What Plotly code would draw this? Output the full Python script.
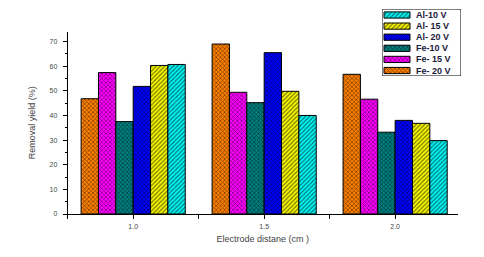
import plotly.graph_objects as go

distances = [1.0, 1.5, 2.0]
series_names = ["Fe- 20 V", "Fe- 15 V", "Fe-10 V", "Al- 20 V", "Al- 15 V", "Al-10 V"]
fe_20 = [46.8, 69.0, 56.7]
fe_15 = [57.4, 49.4, 46.6]
fe_10 = [37.5, 45.2, 33.2]
al_20 = [51.8, 65.5, 38.0]
al_15 = [60.3, 49.8, 36.8]
al_10 = [60.7, 40.0, 29.8]
values = [fe_20, fe_15, fe_10, al_20, al_15, al_10]
colors = ["#FF8000", "#FF00FF", "#008080", "#0000FF", "#FFFF00", "#00FFFF"]
shapes = ["x", "x", "x", "x", "/", "/"]

W, H = 484, 257
OFF = 8  # page body margin of the browser
ML, MR, MT, MB = 59, 28, 0, 51
pw, ph = W - ML - MR, H - MT - MB

def px_x(p):
    return (p - OFF - ML) / pw

def px_y(p):
    return (H - MB - (p - OFF)) / ph

def bar_marker(c, sh):
    return dict(color=c, line=dict(color="black", width=1),
                pattern=dict(shape=sh, fgcolor="black", bgcolor=c, size=3, solidity=0.45))

fig = go.Figure()
for name, vals, c, sh in zip(series_names, values, colors, shapes):
    fig.add_trace(go.Bar(x=distances, y=vals, name=name, showlegend=False,
                         marker=bar_marker(c, sh)))

# manual legend (reversed order, like the reference) on its own small axes
leg_order = list(range(len(series_names)))[::-1]
row_step = 11.1
for k, i in enumerate(leg_order):
    yc = 15 + k * row_step
    fig.add_trace(go.Bar(
        x=[26], y=[yc], base=[384], orientation="h", width=6.2,
        xaxis="x2", yaxis="y2", showlegend=False, hoverinfo="skip",
        marker=bar_marker(colors[i], shapes[i]),
    ))
    fig.add_annotation(x=414, y=yc, xref="x2", yref="y2", text="<b>" + series_names[i] + "</b>",
                       showarrow=False, xanchor="left", yanchor="middle",
                       font=dict(size=9, color="#1a1a3a", family="Liberation Sans, Arial"))

fig.add_shape(type="rect", xref="x2", yref="y2", x0=382, x1=461, y0=9, y1=76,
              line=dict(color="black", width=1), fillcolor="rgba(0,0,0,0)")

font_c = "#444444"
fig.update_layout(
    width=W, height=H,
    margin=dict(l=ML, r=MR, t=MT, b=MB, autoexpand=False),
    paper_bgcolor="white", plot_bgcolor="white",
    barmode="group", bargap=0.205, bargroupgap=0,
    font=dict(family="Liberation Sans, Arial", size=7, color=font_c),
    showlegend=False,
    xaxis=dict(
        domain=[px_x(67.7), px_x(458)],
        range=[0.75, 2.24],
        tickmode="array",
        tickvals=[0.75, 1.0, 1.25, 1.5, 1.75, 2.0, 2.25],
        ticktext=["", "1.0", "", "1.5", "", "2.0", ""],
        ticks="outside", ticklen=4, tickcolor="black",
        showline=True, linecolor="black", linewidth=1,
        showgrid=False, zeroline=False, automargin=False,
        ticklabelstandoff=2,
        title=dict(text="Electrode distane (cm )", font=dict(size=9, color=font_c), standoff=6),
    ),
    yaxis=dict(
        domain=[px_y(214), px_y(31.7)],
        range=[0, 74],
        tickmode="linear", tick0=0, dtick=10,
        ticks="outside", ticklen=4, tickcolor="black",
        minor=dict(dtick=5, ticks="outside", ticklen=2, tickcolor="black"),
        showline=True, linecolor="black", linewidth=1,
        showgrid=False, zeroline=False, automargin=False,
        ticklabelstandoff=4,
        title=dict(text="Removal yield (%)", font=dict(size=9, color=font_c), standoff=12),
    ),
    xaxis2=dict(domain=[px_x(382), px_x(461)], range=[382, 461], anchor="y2",
                visible=False, fixedrange=True),
    yaxis2=dict(domain=[px_y(76), px_y(9)], range=[76, 9], anchor="x2",
                visible=False, fixedrange=True),
)

fig.write_html("out.html")
